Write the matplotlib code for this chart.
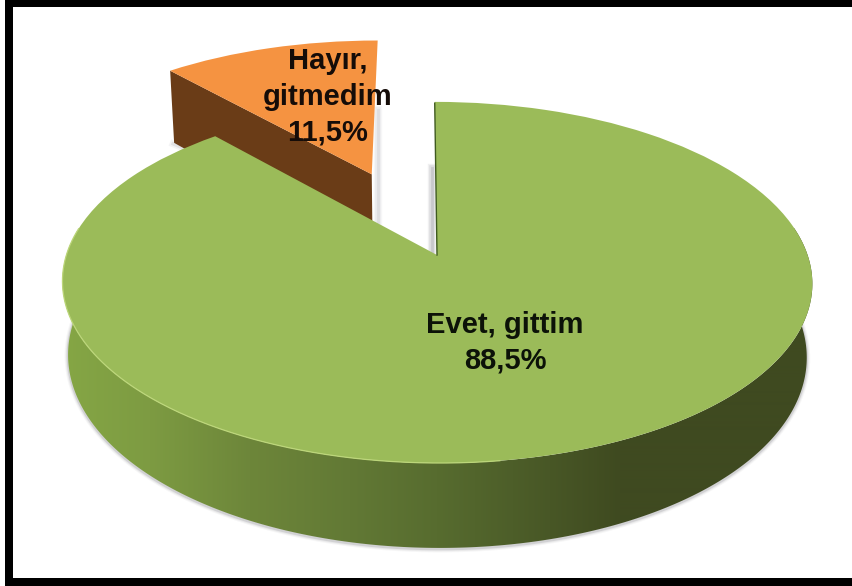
import numpy as np
import matplotlib
matplotlib.use('Agg')
import matplotlib.pyplot as plt
from matplotlib.patches import Polygon, Rectangle
from matplotlib.transforms import Transform

labels = ['Evet, gittim', 'Hayır,\ngitmedim']
values = [88.5, 11.5]
value_labels = ['88,5%', '11,5%']
colors = ['#9BBB59', '#F59341']

plt.rcParams['font.family'] = ['Liberation Sans', 'DejaVu Sans']

# how the flat disc is tilted on to the picture (pixels)
CX, CY, RX, RY, K, SHEAR = 437, 255, 370.6, 176.4, 0.152, 0.015
WALL = 72


def project(u, v, depth=0.0):
    w = 1 + K * v
    y = -RY * v / w
    x = CX + RX * u / w * (1 - 0.015 * (depth > 0)) + SHEAR * y
    return x, CY + y + depth / w


class Tilt(Transform):
    input_dims = 2
    output_dims = 2
    is_separable = False
    has_inverse = False

    def transform_non_affine(self, values):
        values = np.asarray(values)
        x, y = project(values[:, 0], values[:, 1])
        return np.column_stack([x, y])


fig = plt.figure(figsize=(8.52, 5.86), dpi=100)
ax = fig.add_axes([0, 0, 1, 1])
wedges, _ = ax.pie(values, explode=[0, 0.5255], colors=colors, startangle=90,
                   counterclock=False, wedgeprops={'linewidth': 0})

main, slice_ = wedges
tilt = Tilt() + ax.transData
main.set_transform(tilt)
slice_.set_transform(tilt)
main.set_zorder(5)
slice_.set_zorder(3)

# side wall of the big slice, front part only, gradient clipped to its outline
th = np.radians(np.linspace(main.theta1, main.theta2, 721))
th = th[np.sin(th) < 0.16]
th = np.sort(th % (2 * np.pi) + (th % (2 * np.pi) < np.pi / 2) * 2 * np.pi)
u, v = np.cos(th), np.sin(th)
xt, yt = project(u, v)
xb, yb = project(u, v, WALL)

wall_x = [65, 150, 250, 350, 437, 550, 620, 812]
wall_r = [0x85, 0x7d, 0x6d, 0x62, 0x57, 0x48, 0x3f, 0x3f]
wall_g = [0xa6, 0x9b, 0x86, 0x79, 0x6c, 0x57, 0x4a, 0x4a]
wall_b = [0x45, 0x42, 0x3a, 0x35, 0x2f, 0x26, 0x20, 0x20]
xs = np.arange(60, 820)
grad = np.dstack([np.interp(xs, wall_x, wall_r), np.interp(xs, wall_x, wall_g),
                  np.interp(xs, wall_x, wall_b)])[None, :, :].reshape(1, len(xs), 3) / 255
outline = Polygon(np.r_[np.c_[xt, yt], np.c_[xb, yb][::-1]], closed=True, transform=ax.transData,
                  fc='none', ec='none')
ax.add_patch(outline)
im = ax.imshow(grad, extent=[60, 820, 600, 200], aspect='auto', interpolation='bilinear', zorder=4)
im.set_clip_path(outline)

# soft shadow under the wall
for lw, a in [(5, 0.05), (3.5, 0.08), (2, 0.16)]:
    ax.plot(xb, yb + 1, color='#555560', lw=lw, alpha=a, zorder=1, solid_capstyle='round')

# light rim on the front left of the top face
m = xt < 500
ax.plot(xt[m], yt[m], color='#bcd67a', lw=0.9, zorder=6)

# cut face of the pulled out slice
cx0, cy0 = slice_.center
ang = np.radians(slice_.theta2 if np.cos(np.radians(slice_.theta2)) < -0.1 else slice_.theta1)
ux, vx = cx0 + np.cos(ang), cy0 + np.sin(ang)
d = WALL * 1.19
a1 = project(ux, vx)
a2 = project(cx0, cy0)
b1 = project(ux, vx, d)
b2 = project(cx0, cy0, d)
ax.fill([a1[0], a2[0], b2[0], b1[0]], [a1[1], a2[1], b2[1], b1[1]], color='#6A3C17', lw=0, zorder=2)
for lw, al in [(5, 0.08), (2.5, 0.14)]:
    ax.plot([b1[0] - 1, b1[0] + 30], [b1[1] + 1, b1[1] + 14], color='#777780', lw=lw, alpha=al, zorder=1)

# shadows and dark edge along the gap
for lw, al in [(6, 0.06), (4, 0.08), (2, 0.10)]:
    ax.plot([378, 378], [110, 222], color='#70707c', lw=lw, alpha=al, zorder=1)
    ax.plot([432, 432], [168, 252], color='#60606c', lw=lw, alpha=al * 1.6, zorder=1)
e0 = project(0, 0)
e1 = project(0, 0.99)
ax.plot([e0[0], e1[0]], [e0[1], e1[1]], color='#3f5a20', lw=1.0, zorder=6)

# frame
for x0, y0, w0, h0 in [(5, 0, 847, 7), (5, 0, 8, 586), (5, 578, 847, 8)]:
    ax.add_patch(Rectangle((x0, y0), w0, h0, color='black', lw=0, zorder=8))

ax.text(505, 343, labels[0] + '\n' + value_labels[0], ha='center', va='center', fontsize=21,
        fontweight='bold', color='#0c1208', linespacing=1.35, zorder=7)
ax.text(328, 97, labels[1] + '\n' + value_labels[1], ha='center', va='center', fontsize=21,
        fontweight='bold', color='#150c08', linespacing=1.35, zorder=7)

ax.set_xlim(0, 852)
ax.set_ylim(586, 0)
ax.set_aspect('auto')
ax.axis('off')

fig.savefig('out.png', dpi=100, facecolor='white')
